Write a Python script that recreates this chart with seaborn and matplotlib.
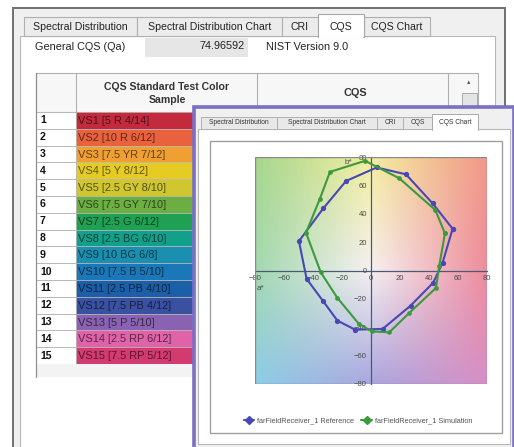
import numpy as np
import matplotlib
matplotlib.use("Agg")
import matplotlib.pyplot as plt
from matplotlib.patches import Rectangle
import seaborn as sns

# CQS test colour samples (table on the left)
sample_ids = [str(i) for i in range(1, 16)]
sample_names = ["VS1 [5 R 4/14]", "VS2 [10 R 6/12]", "VS3 [7.5 YR 7/12]", "VS4 [5 Y 8/12]",
                "VS5 [2.5 GY 8/10]", "VS6 [7.5 GY 7/10]", "VS7 [2.5 G 6/12]", "VS8 [2.5 BG 6/10]",
                "VS9 [10 BG 6/8]", "VS10 [7.5 B 5/10]", "VS11 [2.5 PB 4/10]", "VS12 [7.5 PB 4/12]",
                "VS13 [5 P 5/10]", "VS14 [2.5 RP 6/12]", "VS15 [7.5 RP 5/12]"]
sample_colors = ["#c42a3e", "#e8623e", "#f0a032", "#e6cc22", "#cfc630", "#6cae42", "#1fa052",
                 "#12a08a", "#1a8fb0", "#1a78b8", "#1a5fa8", "#3a50a0", "#8a62b2", "#e062a8", "#d23a70"]

# a*, b* of the 15 samples
ref_a = [56.3, 42.5, 24.1, 3.9, -17.2, -32.9, -49.7, -44.4, -33.3, -23.2, -11.0, 8.0, 27.4, 43.0, 49.4]
ref_b = [29.4, 47.3, 67.8, 72.6, 63.1, 43.8, 20.7, -5.9, -21.2, -35.3, -41.7, -41.2, -24.7, -8.5, 5.6]
sim_a = [51.0, 44.4, 19.5, -4.1, -28.3, -35.2, -44.8, -34.7, -23.2, -8.5, 0.5, 12.6, 26.4, 44.8, 47.0]
sim_b = [26.1, 42.6, 65.0, 77.3, 69.5, 50.7, 26.6, -1.2, -19.3, -37.5, -42.9, -43.6, -29.9, -12.3, 3.0]
ticks = [-80, -60, -40, -20, 0, 20, 40, 60, 80]

# colour plane behind the chart (top row first)
plane_colors = [["#a6d68c", "#f4ee9e", "#f29888"],
                ["#a2d8b0", "#f6f0f2", "#ee8c9c"],
                ["#8ccde8", "#aaa6de", "#d88ec6"]]

sns.set_style("white")
plt.rcParams['font.family'] = ['Liberation Sans', 'DejaVu Sans']

fig = plt.figure(figsize=(5.14, 4.47), dpi=100)
bg = fig.add_axes([0, 0, 1, 1])
bg.set_xlim(0, 514)
bg.set_ylim(447, 0)
bg.axis('off')
bg.set_zorder(0)


def rect(x0, y0, x1, y1, fc, ec='none', lw=0.8, z=1):
    bg.add_patch(Rectangle((x0, y0), x1 - x0, y1 - y0, facecolor=fc, edgecolor=ec, linewidth=lw, zorder=z))


def darker(c, f=0.5):
    r, g, b = matplotlib.colors.to_rgb(c)
    return (r * f, g * f, b * f)


# main window
rect(13, 8, 505, 460, "#f0f0f0", "#707070", 1.4)
rect(20, 36, 495, 460, "white", "#b8b8b8", 0.8)
main_tabs = [("Spectral Distribution", 24, 137), ("Spectral Distribution Chart", 137, 282),
             ("CRI", 282, 318), ("CQS", 318, 364), ("CQS Chart", 364, 430)]
for name, x0, x1 in main_tabs:
    if name == "CQS":
        rect(x0, 14, x1, 37, "white", "#a8a8a8", 0.8, z=2)
        rect(x0 + 0.6, 35, x1 - 0.6, 38, "white", z=2)
    else:
        rect(x0, 17, x1, 36, "#ececec", "#b0b0b0", 0.8)
    bg.text((x0 + x1) / 2, 27, name, fontsize=7.6, ha='center', va='center', color="#222", zorder=3)

bg.text(35, 47, "General CQS (Qa)", fontsize=7.8, va='center', color="#222")
rect(145, 38, 248, 57, "#e6e6e6")
bg.text(245, 46, "74.96592", fontsize=7.8, va='center', ha='right', color="#222")
bg.text(266, 47, "NIST Version 9.0", fontsize=7.8, va='center', color="#222")

# table
top, head_h, row_h = 73, 39, 16.8
rect(36, top, 478, top + head_h, "#f7f7f7", "#b0b0b0", 0.8)
bg.plot([76, 76], [top, top + head_h], color="#b0b0b0", lw=0.8)
bg.plot([257, 257], [top, top + head_h], color="#b0b0b0", lw=0.8)
bg.plot([448, 448], [top, top + head_h], color="#b0b0b0", lw=0.8)
bg.text(167, 87, "CQS Standard Test Color", fontsize=7.6, weight='bold', ha='center', va='center', color="#333")
bg.text(167, 100, "Sample", fontsize=7.6, weight='bold', ha='center', va='center', color="#333")
bg.text(355, 93, "CQS", fontsize=7.8, weight='bold', ha='center', va='center', color="#333")
bg.text(469, 82, "\u25b2", fontsize=4, ha='center', va='center', color="#555")
rect(462, 93, 477, 108, "#e4e4e4", "#a0a0a0", 0.6)

y0 = top + head_h
for i, (sid, nm, col) in enumerate(zip(sample_ids, sample_names, sample_colors)):
    y = y0 + i * row_h
    rect(36, y, 76, y + row_h, "white", "#b8b8b8", 0.7)
    rect(76, y, 258, y + row_h, col, "#b8b8b8", 0.5)
    bg.text(40, y + row_h / 2, sid, fontsize=7.6, weight='bold', va='center', color="#111")
    bg.text(78, y + row_h / 2 + 0.5, nm, fontsize=7.9, va='center', color=darker(col, 0.4))
yend = y0 + 15 * row_h
rect(36, yend, 258, yend + 13, "#f3f3f3")
bg.plot([36, 36], [top, yend + 13], color="#909090", lw=0.9)

# overlay window
rect(194, 107, 514, 460, "#f0f0f0", "#7b70c4", 2.6, z=5)
rect(198, 129, 510, 444, "white", "#b8b8b8", 0.8, z=5)
sub_tabs = [("Spectral Distribution", 201, 277), ("Spectral Distribution Chart", 277, 377),
            ("CRI", 377, 403), ("CQS", 403, 432), ("CQS Chart", 432, 478)]
for name, x0, x1 in sub_tabs:
    if name == "CQS Chart":
        rect(x0, 114, x1, 130, "white", "#a8a8a8", 0.7, z=6)
        rect(x0 + 0.5, 128, x1 - 0.5, 131, "white", z=6)
    else:
        rect(x0, 117, x1, 129, "#e8e8e8", "#b0b0b0", 0.7, z=6)
    bg.text((x0 + x1) / 2, 123, name, fontsize=4.8, ha='center', va='center', color="#333", zorder=7)
rect(210, 141, 502, 433, "white", "#a0a0a0", 1.0, z=6)

# chart
ax = fig.add_axes([255 / 514, 1 - 384 / 447, 232 / 514, 227 / 447])
ax.set_zorder(2)

plane = np.array([[matplotlib.colors.to_rgb(c) for c in row] for row in plane_colors])
ax.imshow(plane, extent=[-120, 120, -120, 120], aspect='auto', interpolation='bilinear', zorder=0)
ax.set_xlim(-80, 80)
ax.set_ylim(-80, 80)

ref_color, sim_color = "#4848b4", "#3c9a3c"
sns.lineplot(x=np.append(ref_a, ref_a[0]), y=np.append(ref_b, ref_b[0]), sort=False, estimator=None,
             color=ref_color, lw=1.5, marker='o', markersize=3.8, markeredgewidth=0, ax=ax, zorder=3)
sns.lineplot(x=np.append(sim_a, sim_a[0]), y=np.append(sim_b, sim_b[0]), sort=False, estimator=None,
             color=sim_color, lw=1.5, marker='o', markersize=3.4, markeredgewidth=0, ax=ax, zorder=3)

for s in ['top', 'right']:
    ax.spines[s].set_visible(False)
ax.spines['left'].set_position('zero')
ax.spines['bottom'].set_position('zero')
for s in ['left', 'bottom']:
    ax.spines[s].set_color("#4a5a70")
    ax.spines[s].set_linewidth(0.9)
    ax.spines[s].set_zorder(2)
ax.add_patch(Rectangle((0, 0), 1, 1, transform=ax.transAxes, fill=False, edgecolor="#8a8a8a", lw=1.0, zorder=4))
ax.set_xticks(ticks)
ax.set_yticks(ticks)
ax.tick_params(length=2, width=0.6, color="#4a5a70", labelsize=5.5, labelcolor="#4a4a4a", pad=1)
ax.grid(False)
ax.text(-79, -10, "a*", fontsize=5.8, color="#4a4a4a", va='top')
ax.text(-13, 75, "b*", fontsize=5.8, color="#4a4a4a", ha='right')

handles = [plt.Line2D([], [], color=ref_color, lw=1.5, marker='D', markersize=4),
           plt.Line2D([], [], color=sim_color, lw=1.5, marker='D', markersize=4)]
ax.legend(handles, ["farFieldReceiver_1 Reference", "farFieldReceiver_1 Simulation"],
          loc='center', bbox_to_anchor=(358 / 514, 1 - 421 / 447), bbox_transform=fig.transFigure,
          ncol=2, frameon=False, fontsize=5.3, handlelength=1.4, columnspacing=1.0, handletextpad=0.4,
          labelcolor="#555")

fig.savefig("out.png", dpi=100)
